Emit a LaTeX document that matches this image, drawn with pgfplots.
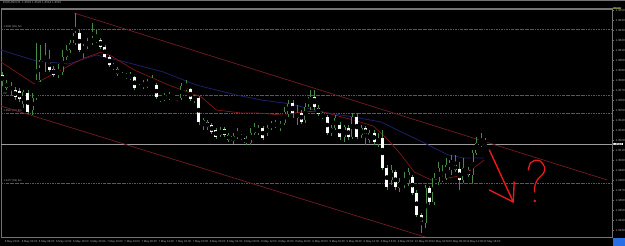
\documentclass[border=0pt]{standalone}
\usepackage{fontspec}
\setmainfont{Liberation Sans}
\usepackage{pgfplots}
\usepackage{pgfplotstable}
\pgfplotsset{compat=1.18}
\definecolor{wick}{RGB}{70,140,70}
\definecolor{bluema}{RGB}{30,30,105}
\definecolor{redma}{RGB}{130,22,22}
\definecolor{trend}{RGB}{115,28,36}
\definecolor{refl}{RGB}{90,90,70}
\definecolor{arrowred}{RGB}{235,25,25}
\definecolor{lbl}{RGB}{175,175,175}
\definecolor{frame}{RGB}{115,115,115}
\definecolor{tagblue}{RGB}{40,110,230}
\definecolor{olivetag}{RGB}{125,125,65}

\pgfplotstableread{
x o h l c
0 1.3585 1.3588 1.3574 1.3579
1 1.3577 1.3580 1.3570 1.3572
2 1.3574 1.3578 1.3565 1.3570
3 1.3570 1.3573 1.3560 1.3563
4 1.3569 1.3572 1.3558 1.3561
5 1.3556 1.3570 1.3552 1.3568
6 1.3567 1.3570 1.3546 1.3548
7 1.3550 1.3567 1.3545 1.3562
8 1.3562 1.3617 1.3560 1.3580
9 1.3580 1.3615 1.3578 1.3600
10 1.3598 1.3617 1.3588 1.3602
11 1.3600 1.3610 1.3588 1.3590
12 1.3591 1.3594 1.3583 1.3585
13 1.3585 1.3596 1.3582 1.3589
14 1.3588 1.3610 1.3585 1.3603
15 1.3603 1.3615 1.3600 1.3610
16 1.3610 1.3620 1.3607 1.3617
17 1.3617 1.3647 1.3615 1.3627
18 1.3627 1.3630 1.3608 1.3610
19 1.3610 1.3616 1.3602 1.3613
20 1.3614 1.3622 1.3611 1.3618
21 1.3618 1.3637 1.3615 1.3621
22 1.3619 1.3630 1.3617 1.3621
23 1.3620 1.3622 1.3611 1.3613
24 1.3613 1.3615 1.3602 1.3603
25 1.3603 1.3605 1.3593 1.3595
26 1.3595 1.3597 1.3590 1.3592
27 1.3591 1.3593 1.3584 1.3586
28 1.3584 1.3588 1.3582 1.3585
29 1.3583 1.3587 1.3581 1.3585
30 1.3585 1.3588 1.3580 1.3582
31 1.3583 1.3584 1.3570 1.3572
32 1.3572 1.3576 1.3570 1.3573
33 1.3573 1.3580 1.3571 1.3577
34 1.3573 1.3581 1.3572 1.3578
35 1.3577 1.3585 1.3575 1.3578
36 1.3575 1.3577 1.3561 1.3563
37 1.3563 1.3565 1.3558 1.3561
38 1.3561 1.3567 1.3559 1.3564
39 1.3562 1.3568 1.3560 1.3565
40 1.3564 1.3566 1.3561 1.3563
41 1.3563 1.3565 1.3559 1.3561
42 1.3562 1.3577 1.3560 1.3574
43 1.3574 1.3580 1.3569 1.3571
44 1.3571 1.3572 1.3559 1.3561
45 1.3561 1.3565 1.3557 1.3562
46 1.3562 1.3564 1.3535 1.3538
47 1.3535 1.3542 1.3530 1.3540
48 1.3538 1.3540 1.3530 1.3533
49 1.3535 1.3537 1.3526 1.3528
50 1.3530 1.3532 1.3521 1.3523
51 1.3525 1.3533 1.3523 1.3530
52 1.3531 1.3533 1.3523 1.3525
53 1.3525 1.3527 1.3518 1.3520
54 1.3519 1.3527 1.3516 1.3524
55 1.3523 1.3532 1.3521 1.3527
56 1.3524 1.3526 1.3520 1.3522
57 1.3522 1.3524 1.3515 1.3517
58 1.3517 1.3532 1.3515 1.3527
59 1.3527 1.3537 1.3525 1.3533
60 1.3528 1.3535 1.3525 1.3531
61 1.3532 1.3534 1.3520 1.3522
62 1.3527 1.3535 1.3524 1.3532
63 1.3532 1.3539 1.3530 1.3536
64 1.3537 1.3540 1.3532 1.3534
65 1.3532 1.3539 1.3529 1.3536
66 1.3537 1.3553 1.3535 1.3548
67 1.3546 1.3560 1.3543 1.3556
68 1.3557 1.3560 1.3542 1.3547
69 1.3542 1.3555 1.3535 1.3547
70 1.3547 1.3550 1.3536 1.3538
71 1.3540 1.3557 1.3537 1.3553
72 1.3553 1.3570 1.3550 1.3563
73 1.3563 1.3570 1.3550 1.3553
74 1.3552 1.3555 1.3544 1.3546
75 1.3546 1.3548 1.3541 1.3543
76 1.3543 1.3545 1.3525 1.3527
77 1.3527 1.3535 1.3524 1.3532
78 1.3532 1.3545 1.3530 1.3542
79 1.3535 1.3538 1.3520 1.3523
80 1.3523 1.3535 1.3518 1.3533
81 1.3532 1.3535 1.3520 1.3523
82 1.3523 1.3547 1.3521 1.3543
83 1.3543 1.3547 1.3521 1.3523
84 1.3525 1.3535 1.3522 1.3532
85 1.3532 1.3534 1.3515 1.3525
86 1.3520 1.3530 1.3517 1.3527
87 1.3527 1.3530 1.3515 1.3518
88 1.3517 1.3527 1.3513 1.3520
89 1.3522 1.3530 1.3490 1.3492
90 1.3492 1.3495 1.3470 1.3473
91 1.3480 1.3495 1.3475 1.3490
92 1.3488 1.3490 1.3470 1.3473
93 1.3472 1.3482 1.3468 1.3478
94 1.3476 1.3488 1.3472 1.3478
95 1.3477 1.3492 1.3474 1.3488
96 1.3483 1.3485 1.3465 1.3467
97 1.3467 1.3470 1.3443 1.3445
98 1.3445 1.3447 1.3427 1.3437
99 1.3437 1.3475 1.3432 1.3472
100 1.3472 1.3474 1.3455 1.3458
101 1.3458 1.3487 1.3455 1.3482
102 1.3478 1.3498 1.3475 1.3492
103 1.3483 1.3495 1.3478 1.3480
104 1.3482 1.3502 1.3480 1.3495
105 1.3490 1.3505 1.3485 1.3500
106 1.3495 1.3505 1.3488 1.3490
107 1.3491 1.3498 1.3470 1.3480
108 1.3480 1.3502 1.3477 1.3492
109 1.3490 1.3493 1.3483 1.3485
110 1.3485 1.3510 1.3477 1.3507
111 1.3507 1.3523 1.3505 1.3517
112 1.3515 1.3527 1.3513 1.3518
113 1.3518 1.3522 1.3514 1.3515
}\candles

\pgfplotstableread{
x y
-0.3 1.3610
8.0 1.3599
15.5 1.3596
22.0 1.3605
29.7 1.3597
37.7 1.3588
45.4 1.3575
54.8 1.3565
60.6 1.3560
67.6 1.3556
74.7 1.3548
82.2 1.3543
88.7 1.3538
93.4 1.3528
96.4 1.3522
101.1 1.3512
104.4 1.3505
108.1 1.3502
112.8 1.3502
}\slowma

\pgfplotstableread{
x y
-0.3 1.3598
7.5 1.3576
11.5 1.3585
15.5 1.3594
19.2 1.3602
23.2 1.3608
25.5 1.3604
30.9 1.3590
38.9 1.3575
46.6 1.3563
50.1 1.3550
55.9 1.3547
59.9 1.3547
65.3 1.3545
70.0 1.3548
74.2 1.3549
82.2 1.3540
86.8 1.3534
89.9 1.3522
93.4 1.3505
96.4 1.3488
100.4 1.3480
104.4 1.3482
108.1 1.3485
112.8 1.3500
}\fastma

\begin{document}
\begin{tikzpicture}
\fill[black] (0,0) rectangle (625pt,246pt);
\draw[frame, line width=0.6pt] (0,245.6pt) -- (625pt,245.6pt);
\begin{axis}[
  at={(1pt,9pt)}, anchor=south west,
  scale only axis, width=611pt, height=229pt,
  xmin=-0.3, xmax=142.7, ymin=1.3423, ymax=1.3652,
  axis background/.style={fill=black},
  axis line style={draw=frame, line width=0.6pt},
  ytick={1.3430,1.3440,1.3450,1.3460,1.3470,1.3480,1.3490,1.3500,1.3510,1.3520,1.3530,1.3540,1.3550,1.3560,1.3570,1.3580,1.3590,1.3600,1.3610,1.3620,1.3630,1.3640,1.3650},
  yticklabel pos=right, ytick pos=right,
  /pgf/number format/fixed,
  /pgf/number format/fixed zerofill,
  /pgf/number format/precision=4,
  /pgf/number format/assume math mode=true,
  scaled y ticks=false,
  y tick label style={font=\fontsize{3}{3.5}\selectfont, text=lbl, xshift=-1.5pt},
  xtick={0,4,...,112},
  xticklabels={6 May 2013,6 May 04:00,6 May 08:00,6 May 12:00,6 May 16:00,6 May 20:00,7 May 00:00,7 May 04:00,7 May 08:00,7 May 12:00,7 May 16:00,7 May 20:00,8 May 00:00,8 May 04:00,8 May 08:00,8 May 12:00,8 May 16:00,8 May 20:00,9 May 00:00,9 May 04:00,9 May 08:00,9 May 12:00,9 May 16:00,9 May 20:00,10 May 00:00,10 May 04:00,10 May 08:00,10 May 12:00,10 May 16:00},
  xtick pos=bottom,
  x tick label style={font=\fontsize{2.8}{3.2}\selectfont, text=lbl, anchor=north west, xshift=-1pt, yshift=1pt},
  tick style={draw=frame, line width=0.4pt},
  tick align=outside, major tick length=1.5pt,
]
% reference levels
\addplot[refl, line width=0.5pt, dash pattern=on 2.5pt off 1pt on 0.6pt off 1pt] coordinates {(-0.3,1.3631) (142.7,1.3631)};
\addplot[refl, line width=0.5pt, dash pattern=on 2.5pt off 1pt on 0.6pt off 1pt] coordinates {(-0.3,1.3565) (142.7,1.3565)};
\addplot[refl, line width=0.5pt, dash pattern=on 2.5pt off 1pt on 0.6pt off 1pt] coordinates {(-0.3,1.3547) (142.7,1.3547)};
\addplot[refl, line width=0.5pt, dash pattern=on 2.5pt off 1pt on 0.6pt off 1pt] coordinates {(-0.3,1.3477) (142.7,1.3477)};
\addplot[frame!70, line width=0.6pt] coordinates {(-0.3,1.3516) (142.7,1.3516)};
\addplot[olivetag, line width=0.7pt] coordinates {(-0.3,1.3651) (142.7,1.3651)};
\node[anchor=south west, inner sep=0.3pt, font=\fontsize{2.6}{3}\selectfont, text=lbl] at (axis cs:0.2,1.3631) {1.3631 (R1) 5m};
\node[anchor=south west, inner sep=0.3pt, font=\fontsize{2.6}{3}\selectfont, text=lbl] at (axis cs:0.2,1.3565) {PP};
\node[anchor=south west, inner sep=0.3pt, font=\fontsize{2.6}{3}\selectfont, text=lbl] at (axis cs:0.2,1.3547) {1.3547 (S1) 5m};
\node[anchor=south west, inner sep=0.3pt, font=\fontsize{2.6}{3}\selectfont, text=lbl] at (axis cs:0.2,1.3477) {1.3477 (S2) 5m};
% channel
\addplot[trend, line width=0.7pt] coordinates {(16.8,1.3647) (141.6,1.3480)};
\addplot[trend, line width=0.7pt] coordinates {(-0.3,1.3554) (105,1.3415)};
% moving averages
\addplot[bluema, line width=0.8pt] table[x=x,y=y] {\slowma};
\addplot[redma, line width=0.7pt] table[x=x,y=y] {\fastma};
% wicks
\addplot[only marks, mark=none, error bars/.cd, y dir=both, y explicit, error mark=none,
  error bar style={line width=0.6pt, draw=wick}]
  table[x=x, y expr={(\thisrow{h}+\thisrow{l})/2}, y error expr={(\thisrow{h}-\thisrow{l})/2}] {\candles};
% bearish bodies (white)
\addplot[only marks, mark=none, restrict expr to domain={\thisrow{o}-\thisrow{c}}{0:1},
  error bars/.cd, y dir=both, y explicit, error mark=none,
  error bar style={line width=3pt, draw=white}]
  table[x=x, y expr={(\thisrow{o}+\thisrow{c})/2}, y error expr={max((\thisrow{o}-\thisrow{c})/2,0.00005)}] {\candles};
% bullish bodies (black with green border)
\addplot[only marks, mark=none, restrict expr to domain={\thisrow{c}-\thisrow{o}}{0.00001:1},
  error bars/.cd, y dir=both, y explicit, error mark=none,
  error bar style={line width=3.1pt, draw=wick}]
  table[x=x, y expr={(\thisrow{o}+\thisrow{c})/2}, y error expr={(\thisrow{c}-\thisrow{o})/2+0.00003}] {\candles};
\addplot[only marks, mark=none, restrict expr to domain={\thisrow{c}-\thisrow{o}}{0.00001:1},
  error bars/.cd, y dir=both, y explicit, error mark=none,
  error bar style={line width=2.1pt, draw=black}]
  table[x=x, y expr={(\thisrow{o}+\thisrow{c})/2}, y error expr={max((\thisrow{c}-\thisrow{o})/2-0.00002,0)}] {\candles};
% hand-drawn arrow and question mark
\addplot[arrowred, line width=1.4pt, line cap=round] coordinates {(114.0,1.3510) (119.6,1.3458)};
\addplot[arrowred, line width=1.4pt, line cap=round, line join=round] coordinates {(114.0,1.3470) (119.6,1.3458) (119.8,1.3478)};
\addplot[arrowred, line width=1.3pt, line cap=round, smooth, tension=0.6] coordinates {(123.1,1.3490) (123.6,1.3497) (124.5,1.34995) (125.9,1.3499) (126.9,1.3493) (126.7,1.3487) (125.2,1.3480) (124.6,1.3473) (124.6,1.3468)};
\addplot[arrowred, only marks, mark=*, mark size=1.1pt] coordinates {(124.6,1.3459)};
\end{axis}
% title and price tags
\node[anchor=north west, inner sep=0pt, font=\fontsize{3}{3.5}\selectfont, text=lbl] at (3pt,244.5pt) {EURUSD,H1\ \ 1.3516 1.3522 1.3514 1.3515};
\node[anchor=west, fill=white, text=black, inner sep=0.4pt, font=\fontsize{3}{3.5}\selectfont] at (612.5pt,102pt) {1.3516};
\node[anchor=west, fill=olivetag, text=black, inner sep=0.4pt, font=\fontsize{2.6}{3}\selectfont] at (612.5pt,238pt) {1.3651};
\fill[tagblue] (612.5pt,0pt) rectangle (625pt,8pt);
\pgfresetboundingbox
\useasboundingbox (0,0) rectangle (625pt,246pt);
\end{tikzpicture}
\end{document}
